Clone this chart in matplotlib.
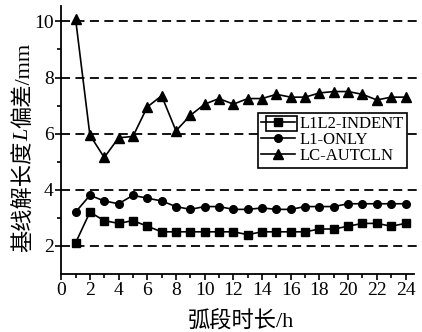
import matplotlib
matplotlib.use('Agg')
import matplotlib.pyplot as plt
from matplotlib.patches import Rectangle

plt.rcParams['font.family'] = ['Liberation Serif', 'Noto Sans CJK SC']

# 弧段时长 (h)
hours = list(range(1, 25))

l1l2_indent = [2.1, 3.2, 2.9, 2.8, 2.9, 2.7, 2.5, 2.5, 2.5, 2.5, 2.5, 2.5,
               2.4, 2.5, 2.5, 2.5, 2.5, 2.6, 2.6, 2.7, 2.8, 2.8, 2.7, 2.8]
l1_only = [3.2, 3.8, 3.6, 3.5, 3.8, 3.7, 3.6, 3.4, 3.3, 3.4, 3.4, 3.3,
           3.3, 3.35, 3.3, 3.3, 3.4, 3.4, 3.4, 3.5, 3.5, 3.5, 3.5, 3.5]
lc_autcln = [10.1, 5.95, 5.15, 5.85, 5.9, 6.95, 7.35, 6.1, 6.65, 7.05, 7.25, 7.05,
             7.25, 7.25, 7.4, 7.3, 7.3, 7.45, 7.5, 7.5, 7.4, 7.2, 7.3, 7.3]

xticks = list(range(0, 25, 2))
yticks = [2, 4, 6, 8, 10]
ylabel_parts = [('基线解长度', 'normal'), ('L', 'italic'), ('偏差/mm', 'normal')]

fig = plt.figure(figsize=(4.22, 3.32), dpi=100)
ax = fig.add_axes([0.145, 0.175, 0.85, 0.807])

for y in yticks:
    ax.axhline(y, color='black', lw=1.3, ls=(0, (5, 3)), zorder=1)

ax.plot(hours, l1l2_indent, '-s', color='black', lw=1.2, ms=5.5, label='L1L2-INDENT', zorder=3)
ax.plot(hours, l1_only, '-o', color='black', lw=1.2, ms=5.5, label='L1-ONLY', zorder=3)
ax.plot(hours, lc_autcln, '-^', color='black', lw=1.2, ms=6.5, label='LC-AUTCLN', zorder=3)

ax.set_xlim(0, 25)
ax.set_ylim(1, 10.55)
ax.set_xticks(xticks)
ax.set_xticks(range(1, 25, 2), minor=True)
ax.set_yticks(yticks)
ax.set_yticks([3, 5, 7, 9], minor=True)
ax.tick_params(axis='both', which='major', direction='out', length=4.5, width=1.2,
               labelsize=14, pad=1)
ax.tick_params(axis='both', which='minor', direction='out', length=3, width=1.2)
for side in ['top', 'right']:
    ax.spines[side].set_visible(False)
for side in ['left', 'bottom']:
    ax.spines[side].set_linewidth(1.3)
ax.spines['bottom'].set_bounds(0, 24.6)

ax.set_xlabel('弧段时长/h', fontsize=16, labelpad=9)

leg = ax.legend(loc='upper left', bbox_to_anchor=(0.549, 0.601), fontsize=12,
                frameon=True, fancybox=False, edgecolor='black', framealpha=1,
                handlelength=2.0, handletextpad=0.3, borderpad=0.2,
                labelspacing=0.0, borderaxespad=0)
leg.get_frame().set_linewidth(1.2)

fig.canvas.draw()
renderer = fig.canvas.get_renderer()

# y label built from pieces so that L can be italic
texts = []
for s, style in ylabel_parts:
    t = fig.text(0, 0, s, rotation=90, fontsize=16, style=style,
                 ha='center', va='bottom')
    texts.append(t)
heights = [t.get_window_extent(renderer).height for t in texts]
total = sum(heights)
y0 = 332 - 252
if y0 + total > 332 - 40:
    y0 = (332 - 147) - total / 2
x_lab = 24
for t, h in zip(texts, heights):
    t.set_transform(None)
    t.set_position((x_lab, y0))
    y0 += h

# highlight box around the first legend handle
tb = leg.get_texts()[0].get_window_extent(renderer)
fig.patches.append(Rectangle((tb.x0 - 34, tb.y0 + 1), 31, tb.height - 1,
                             transform=None, fill=False, edgecolor='black', lw=1.2))

fig.savefig('out.png', dpi=100)
